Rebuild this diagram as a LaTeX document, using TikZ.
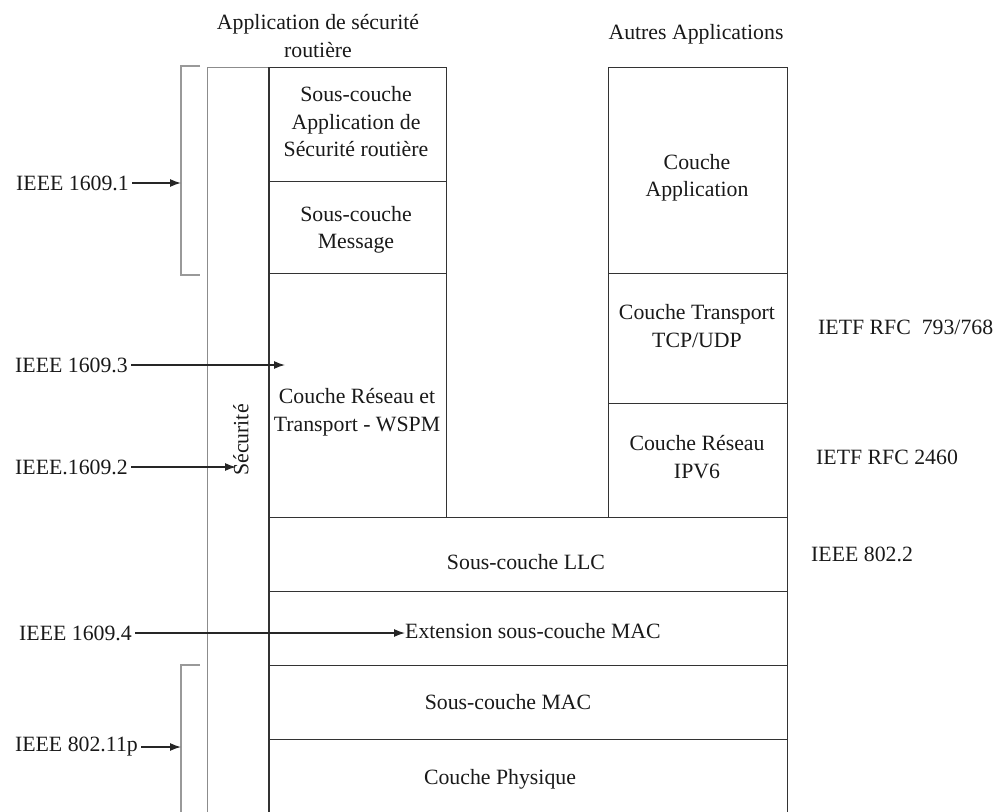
\documentclass[tikz,border=0pt]{standalone}
\usepackage{fontspec}
\setmainfont{Liberation Serif}
\usetikzlibrary{arrows.meta}
\begin{document}
\begin{tikzpicture}[x=1pt,y=-1pt,
  txt/.style={font=\fontsize{21.8}{27.5}\selectfont, inner sep=0pt, align=center, text=black!90},
  box/.style 2 args={draw=black!80, line width=1pt, inner sep=0pt, anchor=north west, minimum width=#1pt, minimum height=#2pt},
  bracket/.style={draw=black!40, line width=1.2pt},
  arr/.style={draw=black!85, line width=1.3pt, shorten <=3pt, -{Latex[length=11pt,width=8pt]}}
]
\path[use as bounding box, clip] (0,0) rectangle (1000,811);

% security column
\node[box={61}{780}, draw=none] (secu) at (207,67) {};
\draw[black!45, line width=1pt] (secu.south west) -- (secu.north west) -- (secu.north east);
\draw[black!80, line width=1pt] (secu.north east) -- (secu.south east);

% left stack
\node[box={178}{114}] (sapp) at (268,67) {};
\node[box={178}{92}] (smsg) at (268,181) {};
\node[box={178}{244}] (sres) at (268,273) {};
% right stack
\node[box={179}{206}] (capp) at (608,67) {};
\node[box={179}{130}] (ctrans) at (608,273) {};
\node[box={179}{114}] (cres) at (608,403) {};
% lower layers
\node[box={519}{74}] (llc) at (268,517) {};
\node[box={519}{74}] (ext) at (268,591) {};
\node[box={519}{74}] (mac) at (268,665) {};
\node[box={519}{110}] (phy) at (268,739) {};

% titles
\node[txt] (t1) at (318,36) {Application de sécurité\\routière};
\node[txt] (t2) at (696,34) {Autres Applications};

% box texts
\node[txt] (tsapp) at (356,122) {Sous-couche\\Application de\\Sécurité routière};
\node[txt] (tsmsg) at (356,230) {Sous-couche\\Message};
\node[txt] (tsres) at (357,412) {Couche Réseau et\\Transport - WSPM};
\node[txt] (tcapp) at (697,178) {Couche\\Application};
\node[txt] (tctrans) at (697,326) {Couche Transport\\TCP/UDP};
\node[txt] (tcres) at (697,457) {Couche Réseau\\IPV6};
\node[txt] (tllc) at (526,562) {Sous-couche LLC};
\node[txt, anchor=west] (text) at (405,631) {Extension sous-couche MAC};
\node[txt] (tmac) at (508,702) {Sous-couche MAC};
\node[txt] (tphy) at (500,779) {Couche Physique};
\node[txt, rotate=90] (tsecu) at (241,440) {Sécurité};

% right labels
\node[txt, anchor=west] (rfc1) at (818,327) {IETF RFC\ \ 793/768};
\node[txt, anchor=west] (rfc2) at (816,457) {IETF RFC 2460};
\node[txt, anchor=west] (i8022) at (811,554) {IEEE 802.2};

% brackets
\coordinate (b1a) at (200,66);
\coordinate (b1b) at (181,66);
\coordinate (b1c) at (181,275);
\coordinate (b1d) at (200,275);
\coordinate (b1m) at (181,183);
\draw[bracket] (b1a) -- (b1b) -- (b1c) -- (b1d);
\coordinate (b2a) at (200,665);
\coordinate (b2b) at (181,665);
\coordinate (b2c) at (181,830);
\coordinate (b2m) at (181,747);
\draw[bracket] (b2a) -- (b2b) -- (b2c);

% left labels and arrows
\node[txt, anchor=east] (l1) at (129,183) {IEEE 1609.1};
\node[txt, anchor=east] (l3) at (128,365) {IEEE 1609.3};
\node[txt, anchor=east] (l2) at (128,467) {IEEE.1609.2};
\node[txt, anchor=east] (l4) at (132,633) {IEEE 1609.4};
\node[txt, anchor=east] (l5) at (138,747) {IEEE 802.11p};
\coordinate (a3) at (285,365);
\coordinate (a2) at (236,467);

\draw[arr] (l1.east) -- (b1m);
\draw[arr] (l3.east) -- (a3);
\draw[arr] (l2.east) -- (a2);
\draw[arr] (l4.east) -- (l4.east -| text.west);
\draw[arr] (l5.east) -- (b2m);
\end{tikzpicture}
\end{document}
